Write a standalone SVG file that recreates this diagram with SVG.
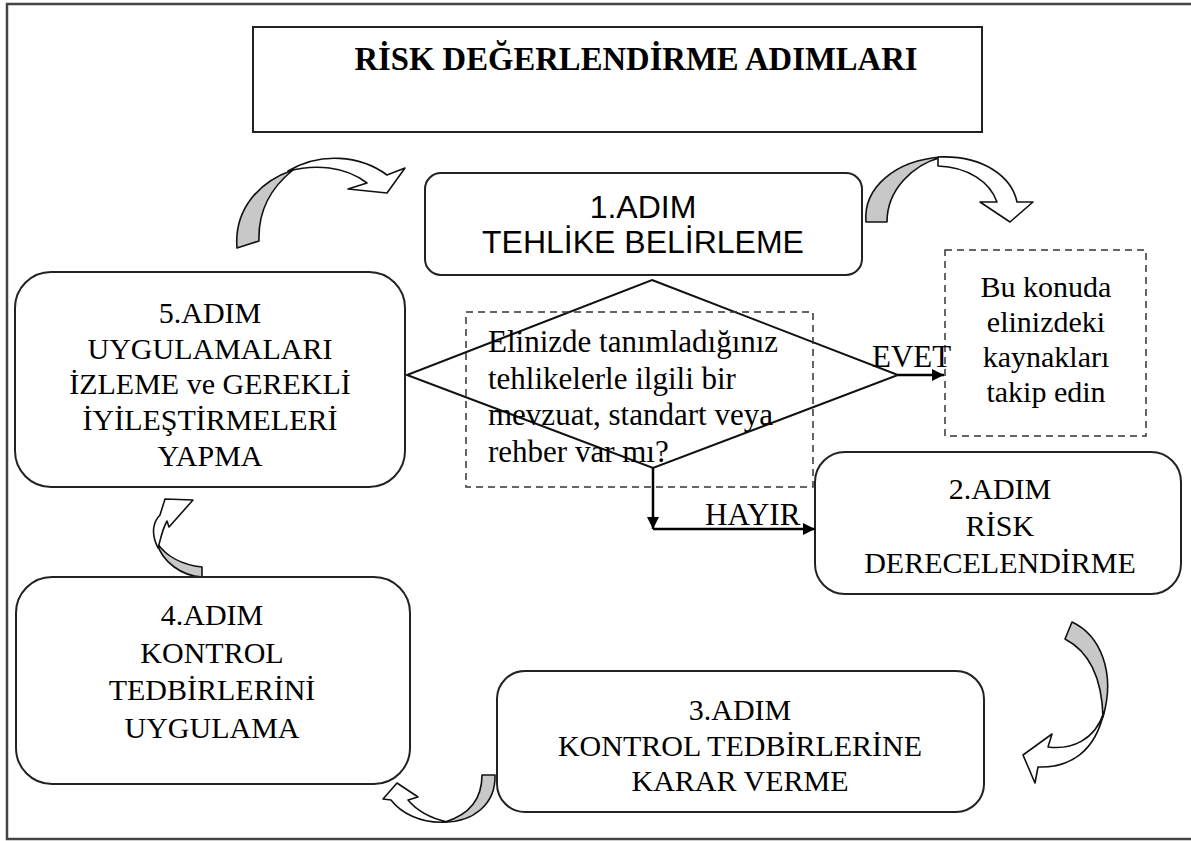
<svg xmlns="http://www.w3.org/2000/svg" width="1191" height="841" viewBox="0 0 1191 841">
<style>
.box{fill:#fff;stroke:#222;stroke-width:2}
.dash{fill:none;stroke:#333;stroke-width:1.5;stroke-dasharray:7 5}
.ln{fill:none;stroke:#000;stroke-width:2.5}
.t{font-family:"Liberation Serif","Times New Roman",serif;font-size:30px;fill:#000;text-anchor:middle}
.tl{font-family:"Liberation Serif","Times New Roman",serif;font-size:31px;fill:#000}
.s{font-family:"Liberation Sans",Arial,sans-serif;font-size:32px;fill:#000;text-anchor:middle}
.g{fill:#c8c8c8;stroke:#111;stroke-width:1.6;stroke-linejoin:round}
.w{fill:#fff;stroke:#111;stroke-width:1.6;stroke-linejoin:round}
</style>
<defs>
<marker id="ah" viewBox="0 0 10 10" refX="10" refY="5" markerWidth="5" markerHeight="5" orient="auto" markerUnits="strokeWidth">
<path d="M0,0 L10,5 L0,10 Z" fill="#000"/>
</marker>
</defs>
<rect x="7" y="4" width="1190" height="835" fill="#fff" stroke="#444" stroke-width="2.5"/>
<g id="title">
<rect x="253" y="27" width="729" height="105" fill="#fff" stroke="#222" stroke-width="2"/>
<text x="636" y="70" font-family="Liberation Serif,'Times New Roman',serif" font-weight="bold" font-size="33" text-anchor="middle" textLength="563" lengthAdjust="spacingAndGlyphs">RİSK DEĞERLENDİRME ADIMLARI</text>
</g>
<g id="curved-arrows">
<path class="g" d="M237,248 C234,210 258,182 293,170 C268,190 258,215 259,241 Z"/>
<path class="w" d="M288,171 C320,152 360,155 387,175 L405,168 L387,193 L348,189 L367,183 C345,166 315,164 288,171 Z"/>
<path class="g" d="M866,222 C863,188 895,160 942,157 C912,165 887,190 887,222 Z"/>
<path class="w" d="M938,157 C985,155 1012,178 1017,202 L1033,202 L1010,222 L980,202 L997,202 C990,182 968,167 938,166 Z"/>
<path class="g" d="M1072,622 C1100,635 1116,672 1103,717 C1102,680 1090,652 1065,639 Z"/>
<path class="w" d="M1104,712 C1095,740 1072,750 1048,747 L1052,734 L1023,755 L1035,783 L1038,767 C1070,768 1095,752 1104,712 Z"/>
<path class="g" d="M482,775 L495,775 C496,805 472,822 445,822 C468,815 482,800 482,775 Z"/>
<path class="w" d="M447,822 C420,824 400,812 391,800 L383,799 L397,783 L418,797 L408,800 C418,812 430,818 447,822 Z"/>
<path class="g" d="M202,567 L202,577 C182,576 162,562 157,543 C166,556 182,565 202,567 Z"/>
<path class="w" d="M158,548 C150,532 154,521 160,515 L165,499 L193,500 L169,527 L167,521 C162,530 161,538 158,548 Z"/>
</g>
<g id="step1">
<rect class="box" x="425" y="173" width="437" height="102" rx="16"/>
<text class="s" x="643" y="218">1.ADIM</text>
<text class="s" x="643" y="253">TEHLİKE BELİRLEME</text>
</g>
<g id="step5">
<rect class="box" x="15" y="272" width="390" height="215" rx="36"/>
<text class="t" x="210" y="323">5.ADIM</text>
<text class="t" x="210" y="359">UYGULAMALARI</text>
<text class="t" x="210" y="394">İZLEME ve GEREKLİ</text>
<text class="t" x="210" y="430">İYİLEŞTİRMELERİ</text>
<text class="t" x="210" y="466">YAPMA</text>
</g>
<g id="decision">
<polygon points="652,280 898,375 653,468 407,375" fill="none" stroke="#111" stroke-width="2"/>
<rect class="dash" x="466" y="312" width="347" height="175"/>
<text class="tl" x="488" y="352">Elinizde tanımladığınız</text>
<text class="tl" x="488" y="389">tehlikelerle ilgili bir</text>
<text class="tl" x="488" y="425">mevzuat, standart veya</text>
<text class="tl" x="488" y="462">rehber var mı?</text>
</g>
<g id="resources">
<rect class="dash" x="945" y="250" width="201" height="186"/>
<text class="t" x="1046" y="297">Bu konuda</text>
<text class="t" x="1046" y="332">elinizdeki</text>
<text class="t" x="1046" y="367">kaynakları</text>
<text class="t" x="1046" y="402">takip edin</text>
</g>
<g id="step2">
<rect class="box" x="815" y="452" width="366" height="142" rx="30"/>
<text class="t" x="1000" y="499">2.ADIM</text>
<text class="t" x="1000" y="536">RİSK</text>
<text class="t" x="1000" y="573">DERECELENDİRME</text>
</g>
<g id="step3">
<rect class="box" x="497" y="671" width="487" height="141" rx="28"/>
<text class="t" x="740" y="720">3.ADIM</text>
<text class="t" x="740" y="756">KONTROL TEDBİRLERİNE</text>
<text class="t" x="740" y="791">KARAR VERME</text>
</g>
<g id="step4">
<rect class="box" x="16" y="577" width="394" height="207" rx="36"/>
<text class="t" x="212" y="625">4.ADIM</text>
<text class="t" x="212" y="663">KONTROL</text>
<text class="t" x="212" y="700">TEDBİRLERİNİ</text>
<text class="t" x="212" y="738">UYGULAMA</text>
</g>
<g id="connectors">
<line class="ln" x1="898" y1="375" x2="944" y2="375" marker-end="url(#ah)"/>
<text class="tl" x="872" y="367" font-size="28">EVET</text>
<line class="ln" x1="653" y1="468" x2="653" y2="529" marker-end="url(#ah)"/>
<line class="ln" x1="653" y1="529" x2="815" y2="529" marker-end="url(#ah)"/>
<text class="tl" x="705" y="525" font-size="29">HAYIR</text>
</g>
</svg>
